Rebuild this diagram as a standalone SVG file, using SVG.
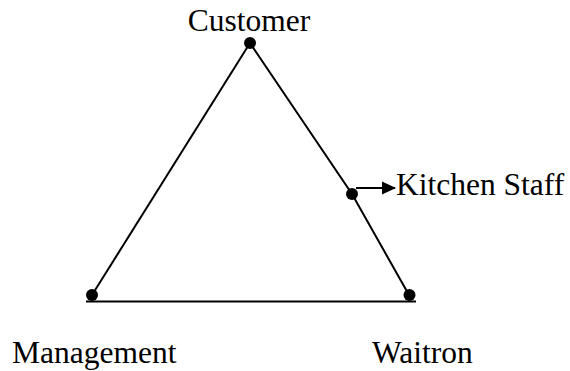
<svg xmlns="http://www.w3.org/2000/svg" width="570" height="371" viewBox="0 0 570 371">
  <style>
    .lbl { font-family: "Liberation Serif", "Times New Roman", serif; font-size: 31.5px; fill: #000; }
    .edge { stroke: #000; stroke-width: 2; fill: none; }
    .dot { fill: #000; }
  </style>
  <defs>
    <marker id="arrow" markerWidth="14" markerHeight="14" refX="13" refY="7" orient="auto" markerUnits="userSpaceOnUse">
      <path d="M0,0.5 L14,7 L0,13.5 Z" fill="#000"/>
    </marker>
  </defs>
  <rect width="570" height="371" fill="#fff"/>

  <g id="connectors">
    <line class="edge" x1="250" y1="43" x2="92" y2="295"/>
    <polyline class="edge" points="250,43 352,194 409,295"/>
    <line class="edge" x1="86" y1="301.5" x2="416" y2="301.5" stroke-width="2.5"/>
    <line class="edge" x1="356" y1="188" x2="395" y2="188" marker-end="url(#arrow)"/>
  </g>

  <g id="customer">
    <circle class="dot" cx="250" cy="43" r="6"/>
    <text class="lbl" x="249" y="31" text-anchor="middle">Customer</text>
  </g>
  <g id="kitchen-staff">
    <circle class="dot" cx="352" cy="194" r="6"/>
    <text class="lbl" x="396" y="195">Kitchen Staff</text>
  </g>
  <g id="management">
    <circle class="dot" cx="92" cy="295" r="6"/>
    <text class="lbl" x="12" y="363">Management</text>
  </g>
  <g id="waitron">
    <circle class="dot" cx="409.5" cy="295" r="6"/>
    <text class="lbl" x="372" y="363">Waitron</text>
  </g>
</svg>
